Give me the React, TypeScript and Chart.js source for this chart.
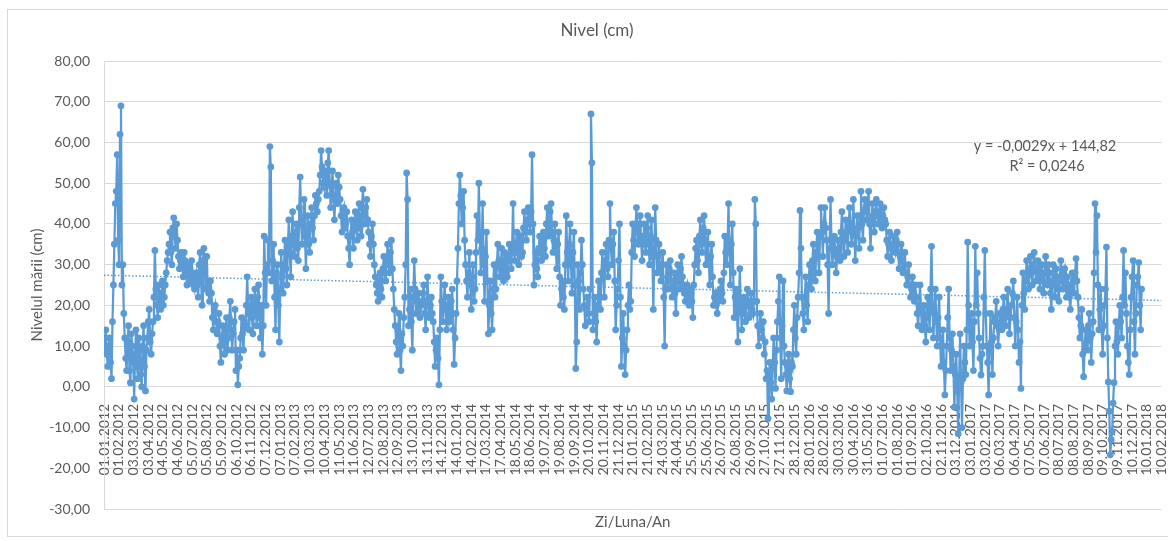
import { useEffect, useRef } from 'react';
import { Chart, registerables } from 'chart.js';

Chart.register(...registerables);

const TITLE = 'Nivel (cm)';
const Y_TITLE = 'Nivelul mării (cm)';
const X_TITLE = 'Zi/Luna/An';
const SERIES_NAME = 'Nivel (cm)';
const TREND_EQUATION = 'y = -0,0029x + 144,82';
const TREND_R2 = 'R² = 0,0246';

const Y_MIN = -30;
const Y_MAX = 80;
const Y_STEP = 10;

const TICK_LABELS = [
  '01.01.2012', '01.02.2012', '03.03.2012', '03.04.2012', '04.05.2012', '04.06.2012',
  '05.07.2012', '05.08.2012', '05.09.2012', '06.10.2012', '06.11.2012', '07.12.2012',
  '07.01.2013', '07.02.2013', '10.03.2013', '10.04.2013', '11.05.2013', '11.06.2013',
  '12.07.2013', '12.08.2013', '12.09.2013', '13.10.2013', '13.11.2013', '14.12.2013',
  '14.01.2014', '14.02.2014', '17.03.2014', '17.04.2014', '18.05.2014', '18.06.2014',
  '19.07.2014', '19.08.2014', '19.09.2014', '20.10.2014', '20.11.2014', '21.12.2014',
  '21.01.2015', '21.02.2015', '24.03.2015', '24.04.2015', '25.05.2015', '25.06.2015',
  '26.07.2015', '26.08.2015', '26.09.2015', '27.10.2015', '27.11.2015', '28.12.2015',
  '28.01.2016', '28.02.2016', '30.03.2016', '30.04.2016', '31.05.2016', '01.07.2016',
  '01.08.2016', '01.09.2016', '02.10.2016', '02.11.2016', '03.12.2016', '03.01.2017',
  '03.02.2017', '06.03.2017', '06.04.2017', '07.05.2017', '07.06.2017', '08.07.2017',
  '08.08.2017', '08.09.2017', '09.10.2017', '09.11.2017', '10.12.2017', '10.01.2018',
  '10.02.2018',
];

const YEARS = [2012, 2013, 2014, 2015, 2016, 2017];

// Sea level readings (cm) taken about every 4 days (days 0, 4, 8, ... of each year)
const LEVEL_2012 = [
  9, 14, 5, 12, 2, 25, 45, 57, 30, 69,
  30, 12, 4, 15, 1, 10, -3, 14, 2, 9,
  0, 15, -1, 12, 19, 8, 16, 33.5, 20, 25,
  19, 26, 22, 28, 33, 38, 30, 41.5, 34, 36,
  29, 33, 27, 31, 25, 30, 26, 28, 24, 28,
  22, 33, 20, 34, 24, 25, 21, 23, 14, 20,
  13, 18, 6, 15, 8, 17, 12, 21, 9, 16,
  4, 0.5, 7, 17, 9, 15, 27, 14, 22, 13,
  24, 15, 25, 12, 8, 37, 20, 36, 59, 26,
  35, 14,
];
// ...and the readings two days after each of those
const LEVEL_2012_MID = [
  12, 8, 10, 6, 16, 35, 48, 36, 62, 25,
  18, 7, 11, 4, 13, 6, 8, 5, 12, 3,
  10, 5, 9, 16, 11, 13, 22, 24, 17, 21,
  23, 20, 25, 31, 35, 33, 39, 37, 40, 32,
  31, 30, 33, 28, 29, 27, 31, 25, 27, 25,
  30, 26, 31, 29, 32, 23, 26, 17, 19, 16,
  16, 10, 12, 11, 14, 9, 17, 14, 13, 19,
  9, 5, 12, 13, 16, 20, 18, 20, 17, 19,
  19, 22, 17, 20, 15, 28, 30, 28, 54, 31,
  22, 28,
];

const LEVEL_2013 = [
  30, 11, 33, 23, 36, 25, 41, 27, 43, 32,
  40, 31, 51.5, 35, 46, 29, 42, 33, 44, 36,
  47, 43, 48, 58, 50, 53, 47, 58, 44, 53,
  41, 50, 52, 46, 38, 44, 40, 37, 30, 41,
  34, 43, 36, 45, 37, 48.5, 40, 46, 38, 32,
  40, 30, 25, 21, 28, 22, 32, 26, 35, 28,
  36, 24, 15, 8, 18, 4, 10, 22, 52.5, 15,
  24, 9, 31, 18, 23, 17, 21, 25, 14, 27,
  17, 22, 16, 5, 12, 0.5, 27, 16, 25, 14,
  22,
];
const LEVEL_2013_MID = [
  20, 24, 27, 30, 29, 34, 33, 37, 35, 38,
  34, 44, 40, 41, 37, 38, 35, 40, 39, 42,
  45, 46, 52, 54, 49, 51, 55, 50, 49, 46,
  47, 45, 49, 42, 43, 39, 43, 34, 37, 38,
  39, 40, 42, 39, 44, 42, 44, 41, 35, 37,
  35, 27, 23, 26, 24, 29, 28, 31, 30, 33,
  29, 19, 11, 14, 9, 13, 17, 30, 46, 19,
  16, 22, 24, 21, 19, 20, 23, 18, 21, 20,
  20, 18, 11, 9, 7, 14, 21, 20, 19, 20,
  16,
];

const LEVEL_2014 = [
  17, 24, 5.5, 18, 34, 52, 40, 48, 30, 22,
  33, 19, 30, 24, 42, 50, 28, 45, 21, 38,
  13, 26, 14, 30, 24, 35, 27, 34, 26, 31,
  27, 35, 29, 45, 31, 38, 30, 37, 33, 43,
  36, 44, 38, 57, 25, 33, 27, 37, 31, 38,
  32, 44, 39, 45, 33, 40, 29, 38, 20, 26,
  19, 42, 26, 40, 23, 38, 4.5, 30, 19, 36,
  24, 15, 22, 16, 67, 14, 22, 11, 26, 19,
  33, 22, 35, 27, 45, 30, 38, 14, 24, 40,
  5,
];
const LEVEL_2014_MID = [
  21, 14, 12, 26, 45, 47, 44, 36, 26, 28,
  25, 27, 21, 33, 36, 38, 34, 30, 32, 26,
  20, 18, 24, 22, 30, 31, 29, 28, 33, 28,
  32, 31, 34, 33, 35, 33, 36, 32, 39, 38,
  41, 40, 43, 40, 30, 29, 34, 33, 36, 34,
  40, 37, 43, 38, 36, 34, 35, 27, 24, 22,
  30, 33, 35, 30, 33, 25, 11, 26, 28, 30,
  20, 19, 18, 24, 55, 18, 16, 20, 22, 28,
  27, 31, 29, 36, 34, 35, 26, 20, 31, 22,
  12,
];

const LEVEL_2015 = [
  18, 3, 14, 25, 21, 40, 32, 44, 35, 42,
  31, 40, 33, 42, 30, 41, 19, 44, 28, 35,
  26, 33, 10, 30, 24, 31, 22, 28, 18, 30,
  24, 32, 25, 21, 25, 20, 24, 17, 30, 36,
  28, 41, 33, 42, 30, 38, 25, 35, 20, 23,
  18, 22, 26, 21, 37, 30, 45, 25, 40, 17,
  24, 11, 29, 14, 22, 16, 24, 17, 23, 18,
  46, 21, 10, 18, 12, 8, 2, -7.8, 6, -3,
  12, -0.4, 16, 27, 2, 26, 6, -1, 8, -1.2,
  5, 20,
];
const LEVEL_2015_MID = [
  10, 9, 20, 19, 33, 36, 39, 38, 40, 36,
  37, 35, 39, 35, 37, 32, 33, 36, 32, 29,
  30, 22, 24, 27, 29, 26, 25, 23, 26, 26,
  29, 27, 23, 24, 22, 23, 21, 25, 34, 31,
  37, 35, 39, 36, 35, 31, 32, 27, 22, 20,
  21, 24, 23, 28, 33, 36, 33, 35, 28, 22,
  18, 21, 20, 19, 18, 21, 20, 21, 19, 21,
  40, 15, 15, 14, 16, 11, 4, 2, 1, 5,
  6, 9, 21, 12, 15, 10, 3, 5, 2, 6,
  14, 12,
];

const LEVEL_2016 = [
  8, 22, 43.3, 22, 14, 27, 16, 30, 24, 35,
  26, 38, 28, 44, 32, 44, 36, 18, 46, 30,
  37, 28, 36, 31, 43, 32, 41, 33, 44, 35,
  46, 31, 42, 34, 48, 36, 46, 41, 48, 34,
  45, 38, 46, 40, 45, 39, 44, 40, 32, 38,
  31, 37, 33, 38, 29, 35, 28, 33, 25, 30,
  22, 27, 21, 22, 15, 25, 14, 20, 11, 22,
  14, 34.5, 12, 24, 10, 22, 5, 14, -2, 10,
  24, 4, 13, -5, 8, -11.5, 13, -10, 10, 3,
  35.5,
];
const LEVEL_2016_MID = [
  17, 28, 34, 18, 22, 20, 25, 27, 31, 28,
  33, 32, 37, 38, 40, 39, 30, 34, 36, 34,
  33, 32, 34, 38, 37, 36, 38, 39, 40, 38,
  38, 37, 39, 42, 40, 43, 44, 45, 40, 40,
  42, 43, 42, 43, 41, 42, 41, 36, 35, 34,
  35, 34, 36, 33, 32, 31, 30, 28, 27, 25,
  24, 23, 25, 18, 20, 19, 18, 15, 17, 19,
  24, 20, 18, 16, 17, 12, 10, 6, 4, 17,
  12, 9, 5, 3, -1, 2, 1, 2, 6, 14,
  20,
];

const LEVEL_2017 = [
  10, 18, 4, 34.5, 28, 12, 2.9, 10, 33.5, 10,
  -2, 18, 3, 16, 21, 10, 18, 14, 22, 15,
  24, 13, 20, 26, 10, 22, 6, -0.4, 28, 19,
  31, 24, 32, 25, 33, 26, 31, 24, 30, 23,
  32, 25, 28, 19, 30, 22, 27, 21, 31, 24,
  29, 22, 25, 19, 28, 23, 31.5, 22, 12, 19,
  2.5, 14, 9, 18, 6, 16, 45, 42, 14, 24,
  8, 20, 34.3, 1.2, -16.7, -11, 1, 16, 8, 20,
  12, 33.5, 28, 10, 3, 22, 31, 8, 25, 30.5,
  14,
];
const LEVEL_2017_MID = [
  14, 11, 16, 20, 18, 7, 8, 22, 18, 6,
  9, 11, 12, 17, 15, 14, 16, 19, 17, 19,
  18, 17, 23, 17, 16, 14, 11, 20, 23, 26,
  27, 29, 28, 30, 29, 28, 27, 28, 26, 28,
  28, 30, 23, 26, 25, 29, 24, 27, 26, 28,
  25, 27, 22, 24, 26, 28, 26, 17, 15, 8,
  9, 11, 15, 12, 13, 28, 33, 25, 19, 14,
  15, 24, 12, -6, -13, -4, 10, 11, 15, 16,
  22, 20, 18, 6, 14, 27, 16, 18, 27, 20,
  24,
];

const LEVELS_BY_YEAR = [LEVEL_2012, LEVEL_2013, LEVEL_2014, LEVEL_2015, LEVEL_2016, LEVEL_2017];
const MID_LEVELS_BY_YEAR = [
  LEVEL_2012_MID, LEVEL_2013_MID, LEVEL_2014_MID, LEVEL_2015_MID, LEVEL_2016_MID, LEVEL_2017_MID,
];

// Linear trendline (start and end of the axis)
const TREND_DATES = ['01.01.2012', '10.02.2018'];
const TREND_VALUES = [27.4, 21.2];

const BLUE = '#5B9BD5';
const TEXT = '#595959';
const GRID = '#D9D9D9';
const FONT = 'Lato, "Open Sans", "DejaVu Sans", sans-serif';

const ORIGIN = Date.UTC(2012, 0, 1);
function dayOf(label: string): number {
  const [d, m, y] = label.split('.').map(Number);
  return Math.round((Date.UTC(y, m - 1, d) - ORIGIN) / 86400000);
}

function buildPoints() {
  const pts: { x: number; y: number }[] = [];
  YEARS.forEach((year, k) => {
    const main = LEVELS_BY_YEAR[k];
    const mid = MID_LEVELS_BY_YEAR[k];
    const start = dayOf('01.01.' + year);
    const len = dayOf('01.01.' + (year + 1)) - start;
    const step = len / main.length;
    main.forEach((v, i) => {
      pts.push({ x: start + i * step, y: v });
      if (i < mid.length) pts.push({ x: start + (i + 0.5) * step, y: mid[i] });
    });
  });
  return pts;
}

const decorPlugin = {
  id: 'decor',
  beforeDraw(chart: any) {
    const ctx = chart.ctx;
    ctx.save();
    ctx.fillStyle = '#ffffff';
    ctx.fillRect(0, 0, chart.width, chart.height);
    ctx.strokeStyle = GRID;
    ctx.lineWidth = 1;
    ctx.strokeRect(7.5, 9.5, chart.width + 20, 527);
    ctx.restore();
  },
  afterDraw(chart: any) {
    const ctx = chart.ctx;
    const area = chart.chartArea;
    ctx.save();
    ctx.fillStyle = TEXT;
    ctx.textAlign = 'center';
    ctx.textBaseline = 'middle';
    ctx.font = `17px ${FONT}`;
    ctx.fillText(TITLE, 597, 31);
    ctx.font = `15px ${FONT}`;
    ctx.fillText(X_TITLE, (area.left + area.right) / 2, 522);
    ctx.font = `14.5px ${FONT}`;
    ctx.fillText(TREND_EQUATION, 1045, 146);
    ctx.fillText(TREND_R2, 1047, 166);
    ctx.font = `15px ${FONT}`;
    ctx.translate(37, (area.top + area.bottom) / 2);
    ctx.rotate(-Math.PI / 2);
    ctx.fillText(Y_TITLE, 0, 0);
    ctx.restore();
  },
};

export default function App() {
  const ref = useRef<HTMLCanvasElement>(null);

  useEffect(() => {
    const canvas = ref.current;
    if (!canvas) return;
    const points = buildPoints();
    const trend = TREND_DATES.map((d, i) => ({ x: dayOf(d), y: TREND_VALUES[i] }));
    const xMax = dayOf(TICK_LABELS[TICK_LABELS.length - 1]);

    const chart = new Chart(canvas, {
      type: 'line',
      data: {
        datasets: [
          {
            label: SERIES_NAME,
            data: points,
            borderColor: BLUE,
            backgroundColor: BLUE,
            borderWidth: 2.25,
            pointRadius: 3.4,
            pointBorderWidth: 0,
            pointBackgroundColor: BLUE,
            tension: 0,
            order: 0,
          },
          {
            label: 'Trend',
            data: trend,
            borderColor: BLUE,
            borderWidth: 1.5,
            borderDash: [1.5, 2],
            pointRadius: 0,
            tension: 0,
            order: 1,
          },
        ],
      },
      options: {
        animation: false,
        responsive: false,
        devicePixelRatio: 1,
        layout: { padding: { left: 0, right: 6.5, top: 61, bottom: 32 } },
        plugins: {
          legend: { display: false },
          tooltip: { enabled: false },
          title: { display: false },
        },
        scales: {
          x: {
            type: 'linear',
            min: 0,
            max: xMax,
            position: { y: 0 } as any,
            grid: { display: false },
            border: { display: false },
            afterBuildTicks: (axis: any) => {
              axis.ticks = TICK_LABELS.map((l) => ({ value: dayOf(l) }));
            },
            afterFit: (axis: any) => {
              axis.paddingLeft = 0;
              axis.paddingRight = 0;
            },
            ticks: {
              autoSkip: false,
              minRotation: 90,
              maxRotation: 90,
              padding: 9,
              color: TEXT,
              font: { family: FONT, size: 14 },
              callback: (_v: any, i: number) => TICK_LABELS[i],
            },
          },
          y: {
            type: 'linear',
            min: Y_MIN,
            max: Y_MAX,
            grid: { color: GRID, drawTicks: false, lineWidth: 1 },
            border: { display: true, color: GRID },
            afterFit: (axis: any) => {
              axis.width = 104;
            },
            ticks: {
              stepSize: Y_STEP,
              padding: 14,
              color: TEXT,
              font: { family: FONT, size: 14 },
              callback: (v: any) => Number(v).toFixed(2).replace('.', ','),
            },
          },
        },
      },
      plugins: [decorPlugin],
    } as any);

    return () => chart.destroy();
  }, []);

  return (
    <div style={{ position: 'fixed', left: 0, top: 0, width: 1168, height: 541, background: '#fff' }}>
      <canvas ref={ref} width={1168} height={541} style={{ display: 'block', width: 1168, height: 541 }} />
    </div>
  );
}
